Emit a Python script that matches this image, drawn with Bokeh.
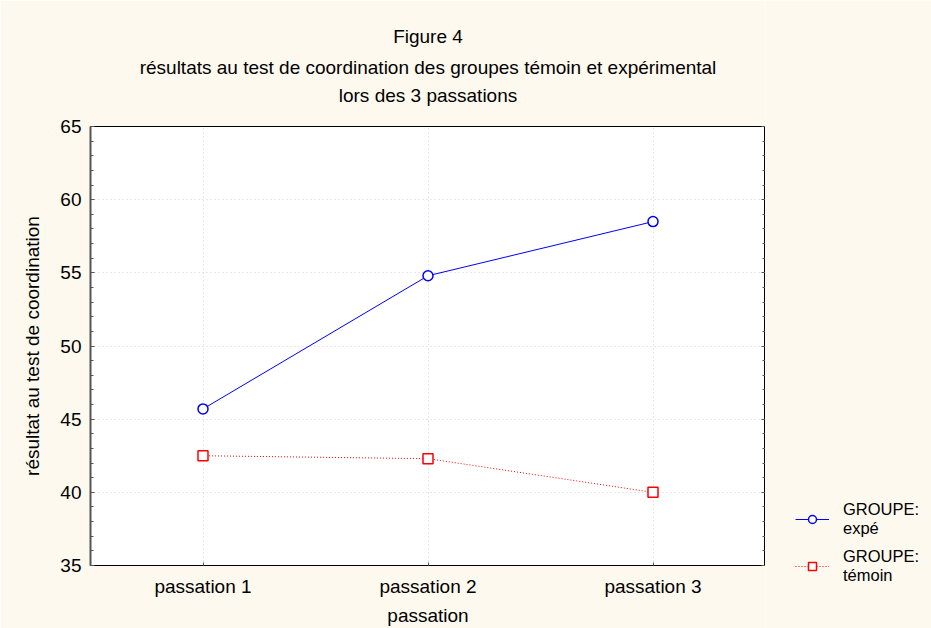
from bokeh.plotting import figure
from bokeh.layouts import row
from bokeh.models import (FactorRange, Range1d, Title, Legend, LegendItem, LinearAxis,
                          FixedTicker, CustomJSTickFormatter)
from bokeh.embed import file_html
from bokeh.resources import INLINE

passations = ["passation 1", "passation 2", "passation 3"]
expe = [45.7, 54.8, 58.5]
temoin = [42.5, 42.3, 40.0]
y_ticks = [35, 40, 45, 50, 55, 60, 65]
title_lines = ["Figure 4",
               "résultats au test de coordination des groupes témoin et expérimental",
               "lors des 3 passations"]
legend_labels = ["GROUPE:\nexpé", "GROUPE:\ntémoin"]

FONT = "Liberation Sans"
FS = "19px"
BG = "#FDF9EE"
H = 628

p = figure(width=765, height=H, x_range=FactorRange(*passations), y_range=Range1d(35, 65),
           output_backend="svg", toolbar_location=None,
           min_border_left=90, min_border_right=0, min_border_top=126, min_border_bottom=61)
p.title.visible = False
p.background_fill_color = "white"
p.border_fill_color = BG
p.outline_line_color = "black"
p.outline_line_width = 1

# titles: the last line carries an empty second line as spacing above the frame
title_texts = [title_lines[0], title_lines[1], title_lines[2] + "\n"]
standoffs = [5, 10, 0]
for t, s in reversed(list(zip(title_texts, standoffs))):
    p.add_layout(Title(text=t, align="center", text_font=FONT, text_font_size=FS,
                       text_font_style="normal", text_color="black", standoff=s), "above")

# grids
p.xgrid.grid_line_color = "#d0d0d0"
p.xgrid.grid_line_dash = "1 3"
p.ygrid.grid_line_color = "#d0d0d0"
p.ygrid.grid_line_dash = "1 3"
p.ygrid.ticker = FixedTicker(ticks=y_ticks)

# y axis
ya = p.yaxis[0]
ya.ticker = FixedTicker(ticks=y_ticks, minor_ticks=list(range(35, 66)))
ya.axis_label = "résultat au test de coordination"
ya.axis_label_text_font = FONT
ya.axis_label_text_font_size = FS
ya.axis_label_text_font_style = "normal"
ya.axis_label_text_color = "black"
ya.axis_label_standoff = 14
ya.major_label_text_font = FONT
ya.major_label_text_font_size = FS
ya.major_label_text_color = "black"
ya.major_label_standoff = 9
ya.major_tick_in = 4
ya.major_tick_out = 0
ya.minor_tick_in = 3
ya.minor_tick_out = 0
ya.axis_line_color = "#555555"
ya.axis_line_width = 2
ya.major_tick_line_color = "#555555"
ya.minor_tick_line_color = "#555555"

ra = LinearAxis(ticker=FixedTicker(ticks=y_ticks, minor_ticks=list(range(35, 66))),
                formatter=CustomJSTickFormatter(code="return ''"),
                major_label_standoff=0, major_tick_in=4, major_tick_out=0,
                minor_tick_in=3, minor_tick_out=0, axis_line_color="black",
                major_tick_line_color="#555555", minor_tick_line_color="#555555")
p.add_layout(ra, "right")

xa = p.xaxis[0]
xa.axis_label = "passation"
xa.axis_label_text_font = FONT
xa.axis_label_text_font_size = FS
xa.axis_label_text_font_style = "normal"
xa.axis_label_text_color = "black"
xa.axis_label_standoff = 5
xa.major_label_text_font = FONT
xa.major_label_text_font_size = FS
xa.major_label_text_color = "black"
xa.major_label_standoff = 10
xa.major_tick_in = 3
xa.major_tick_out = 0
xa.axis_line_color = "black"
xa.major_tick_line_color = "#555555"

line_style_a = dict(line_color="#0000FF", line_width=1)
line_style_b = dict(line_color="#FF0000", line_width=1, line_dash="1 2")
mark_a = dict(marker="circle", size=10, line_color="#0000FF", fill_color="white", line_width=1.5)
mark_b = dict(marker="square", size=10, line_color="#FF0000", fill_color="white", line_width=1.5)

p.line(passations, expe, **line_style_a)
p.scatter(passations, expe, **mark_a)
p.line(passations, temoin, **line_style_b)
p.scatter(passations, temoin, **mark_b)

# legend panel (separate figure, same background); its ranges keep the
# series out of view so only the legend samples show
q = figure(width=166, height=H, output_backend="svg", toolbar_location=None,
           x_range=FactorRange(*passations), y_range=Range1d(100, 101),
           min_border_left=0, min_border_right=0, min_border_top=0, min_border_bottom=0)
if "frame_align" in q.properties():
    q.frame_align = False
q.axis.visible = False
q.grid.visible = False
q.outline_line_color = None
q.background_fill_color = BG
q.border_fill_color = BG
ql1 = q.line(passations, expe, **line_style_a)
qc1 = q.scatter(passations, expe, **mark_a)
ql2 = q.line(passations, temoin, **line_style_b)
qc2 = q.scatter(passations, temoin, **mark_b)

legend = Legend(items=[LegendItem(label=legend_labels[0], renderers=[ql1, qc1]),
                       LegendItem(label=legend_labels[1], renderers=[ql2, qc2])],
                location=(30, 43), label_text_font=FONT, label_text_font_size="16.5px",
                label_text_line_height=1.33, label_text_color="black",
                background_fill_alpha=0, border_line_alpha=0, glyph_width=34,
                label_standoff=14, spacing=9, margin=0, padding=0)
q.add_layout(legend, "center")

layout = row(p, q, spacing=0)
open("out.html", "w").write(file_html(layout, INLINE))
